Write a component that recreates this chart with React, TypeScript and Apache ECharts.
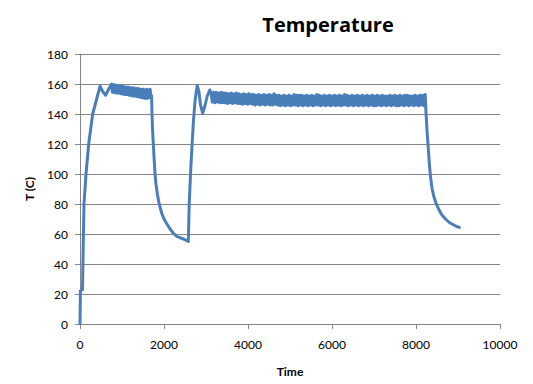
import React, { useEffect, useRef } from "react";
import * as echarts from "echarts";

// Time (s) vs temperature (C)
const heatUp: number[][] = [
  [0, 0], [10, 22], [60, 23], [75, 50], [95, 80], [143, 100], [207, 120],
  [302, 140], [397, 150], [476, 158.5], [540, 155], [611, 152.5], [690, 157],
  [754, 160],
];
const firstHold: number[][] = [
  [770, 154.5], [790, 159.5], [810, 154.5], [830, 159.5], [850, 154], [870, 159], [890, 154], [910, 159], [930, 154], [950, 158.5],
  [970, 153.5], [990, 158.5], [1010, 153.5], [1030, 158.5], [1050, 153], [1070, 158], [1090, 153], [1110, 158], [1130, 153], [1150, 158],
  [1170, 152.5], [1190, 157.5], [1210, 152.5], [1230, 157.5], [1250, 152], [1270, 157.5], [1290, 152], [1310, 157], [1330, 152], [1350, 157],
  [1370, 151.5], [1390, 157], [1410, 151.5], [1430, 156.5], [1450, 151], [1470, 156.5], [1490, 151], [1510, 156.5], [1530, 150.5], [1550, 156],
  [1570, 150.5], [1590, 156.5], [1610, 150.5], [1630, 156], [1650, 151], [1670, 156.5], [1690, 151],
];
const coolDown1: number[][] = [
  [1705, 152], [1714, 140], [1730, 128], [1746, 120], [1765, 110], [1786, 100],
  [1810, 93], [1840, 87], [1875, 81.5], [1905, 78], [1950, 73.5], [2000, 70],
  [2063, 67], [2140, 63.5], [2222, 60.5], [2300, 58.5], [2381, 57.5], [2480, 56.5],
  [2579, 55],
];
const reheat: number[][] = [
  [2600, 80], [2640, 105], [2670, 120], [2700, 135], [2740, 149], [2790, 159],
  [2830, 155], [2870, 146], [2920, 140.5], [2970, 145], [3030, 152], [3090, 156],
  [3120, 154],
];
const secondHold: number[][] = [
  [3150, 148], [3180, 154.5], [3210, 147.5], [3240, 154.5], [3270, 148], [3300, 154], [3330, 147.5], [3360, 154.5], [3390, 147.5], [3420, 154],
  [3450, 147.5], [3480, 154], [3510, 147], [3540, 153.5], [3570, 147.5], [3600, 154], [3630, 147], [3660, 153.5], [3690, 147.5], [3720, 154],
  [3750, 147], [3780, 153.5], [3810, 147], [3840, 153], [3870, 146.5], [3900, 153.5], [3930, 147], [3960, 153], [3990, 146.5], [4020, 153.5],
  [4050, 147], [4080, 153], [4110, 146.5], [4140, 153], [4170, 146], [4200, 152.5], [4230, 146.5], [4260, 153], [4290, 146], [4320, 152.5],
  [4350, 146.5], [4380, 153], [4410, 146], [4440, 152.5], [4470, 146.5], [4500, 153], [4530, 146], [4560, 152.5], [4590, 146], [4620, 153.5],
  [4650, 146.5], [4680, 152.5], [4710, 146], [4740, 152.5], [4770, 145.5], [4800, 152], [4830, 146], [4860, 152.5], [4890, 145.5], [4920, 152],
  [4950, 146], [4980, 152.5], [5010, 145.5], [5040, 152], [5070, 146], [5100, 153], [5130, 146], [5160, 152.5], [5190, 145.5], [5220, 152.5],
  [5250, 146], [5280, 152.5], [5310, 145.5], [5340, 152], [5370, 146], [5400, 152.5], [5430, 145.5], [5460, 152], [5490, 146], [5520, 152.5],
  [5550, 145.5], [5580, 152], [5610, 146], [5640, 153], [5670, 146], [5700, 152.5], [5730, 145.5], [5760, 152], [5790, 146], [5820, 152.5],
  [5850, 145.5], [5880, 152], [5910, 146], [5940, 152.5], [5970, 145.5], [6000, 152], [6030, 146], [6060, 152.5], [6090, 145.5], [6120, 152],
  [6150, 146], [6180, 152.5], [6210, 145.5], [6240, 152], [6270, 146], [6300, 153], [6330, 146], [6360, 152.5], [6390, 145.5], [6420, 152],
  [6450, 146], [6480, 152.5], [6510, 145.5], [6540, 152], [6570, 146], [6600, 152.5], [6630, 145.5], [6660, 152], [6690, 146], [6720, 152.5],
  [6750, 145.5], [6780, 152], [6810, 146], [6840, 152.5], [6870, 145.5], [6900, 152], [6930, 146], [6960, 152.5], [6990, 145.5], [7020, 152],
  [7050, 145.5], [7080, 152.5], [7110, 146], [7140, 152], [7170, 145.5], [7200, 152.5], [7230, 146], [7260, 152], [7290, 145.5], [7320, 152],
  [7350, 146], [7380, 152.5], [7410, 145.5], [7440, 152], [7470, 146], [7500, 152.5], [7530, 145.5], [7560, 152], [7590, 145.5], [7620, 152.5],
  [7650, 146], [7680, 152], [7710, 145.5], [7740, 152.5], [7770, 146], [7800, 152.5], [7830, 145.5], [7860, 152], [7890, 146], [7920, 152],
  [7950, 145.5], [7980, 152.5], [8010, 146], [8040, 152], [8070, 145.5], [8100, 152.5], [8130, 146], [8160, 152.5], [8190, 145.5], [8220, 153],
];
const coolDown2: number[][] = [
  [8240, 140], [8260, 130], [8290, 118], [8320, 106], [8350, 97], [8385, 90],
  [8425, 85], [8476, 80.5], [8540, 76.5], [8610, 73], [8700, 70], [8800, 67.5],
  [8900, 66], [8970, 65], [9030, 64.4],
];

const FONT = "Lato, 'Open Sans', sans-serif";
const GRID_GRAY = "#868686";

export default function App() {
  const ref = useRef<HTMLDivElement>(null);

  useEffect(() => {
    document.body.style.margin = "0";
    if (!ref.current) return;
    const chart = echarts.init(ref.current, undefined, { renderer: "svg" });
    const data = [
      ...heatUp, ...firstHold, ...coolDown1, ...reheat, ...secondHold, ...coolDown2,
    ];
    chart.setOption({
      animation: false,
      backgroundColor: "#ffffff",
      title: {
        text: "Temperature",
        left: 323,
        top: 9,
        textAlign: "center",
        textStyle: { fontFamily: "'Open Sans', sans-serif", fontSize: 20, fontWeight: "bold", color: "#000" },
      },
      grid: { left: 80, right: 33, top: 54, bottom: 60, outerBoundsMode: "none" },
      xAxis: {
        type: "value",
        min: 0,
        max: 10000,
        interval: 2000,
        name: "Time",
        nameLocation: "middle",
        nameGap: 41,
        nameTextStyle: { fontFamily: FONT, fontSize: 12, fontWeight: "bold", color: "#000" },
        axisLine: { show: true, lineStyle: { color: GRID_GRAY, width: 1 } },
        axisTick: { show: true, length: 5, lineStyle: { color: GRID_GRAY } },
        axisLabel: {
          margin: 14,
          fontFamily: FONT,
          fontSize: 12,
          color: "#000",
          formatter: (v: number) => String(v),
        },
        splitLine: { show: false },
      },
      yAxis: {
        type: "value",
        min: 0,
        max: 180,
        interval: 20,
        name: "T (C)",
        nameLocation: "middle",
        nameGap: 45,
        nameRotate: 90,
        nameTextStyle: { fontFamily: FONT, fontSize: 12, fontWeight: "bold", color: "#000" },
        axisLine: { show: true, lineStyle: { color: GRID_GRAY, width: 1 } },
        axisTick: { show: true, length: 5, lineStyle: { color: GRID_GRAY } },
        axisLabel: { margin: 12, fontFamily: FONT, fontSize: 12, color: "#000" },
        splitLine: { show: true, lineStyle: { color: GRID_GRAY, width: 1 } },
      },
      series: [
        {
          type: "line",
          data,
          showSymbol: false,
          symbol: "none",
          lineStyle: { color: "#4A7EBB", width: 3, join: "round", cap: "round" },
          itemStyle: { color: "#4A7EBB" },
        },
      ],
    });
    return () => chart.dispose();
  }, []);

  return <div ref={ref} style={{ width: 533, height: 384 }} />;
}
